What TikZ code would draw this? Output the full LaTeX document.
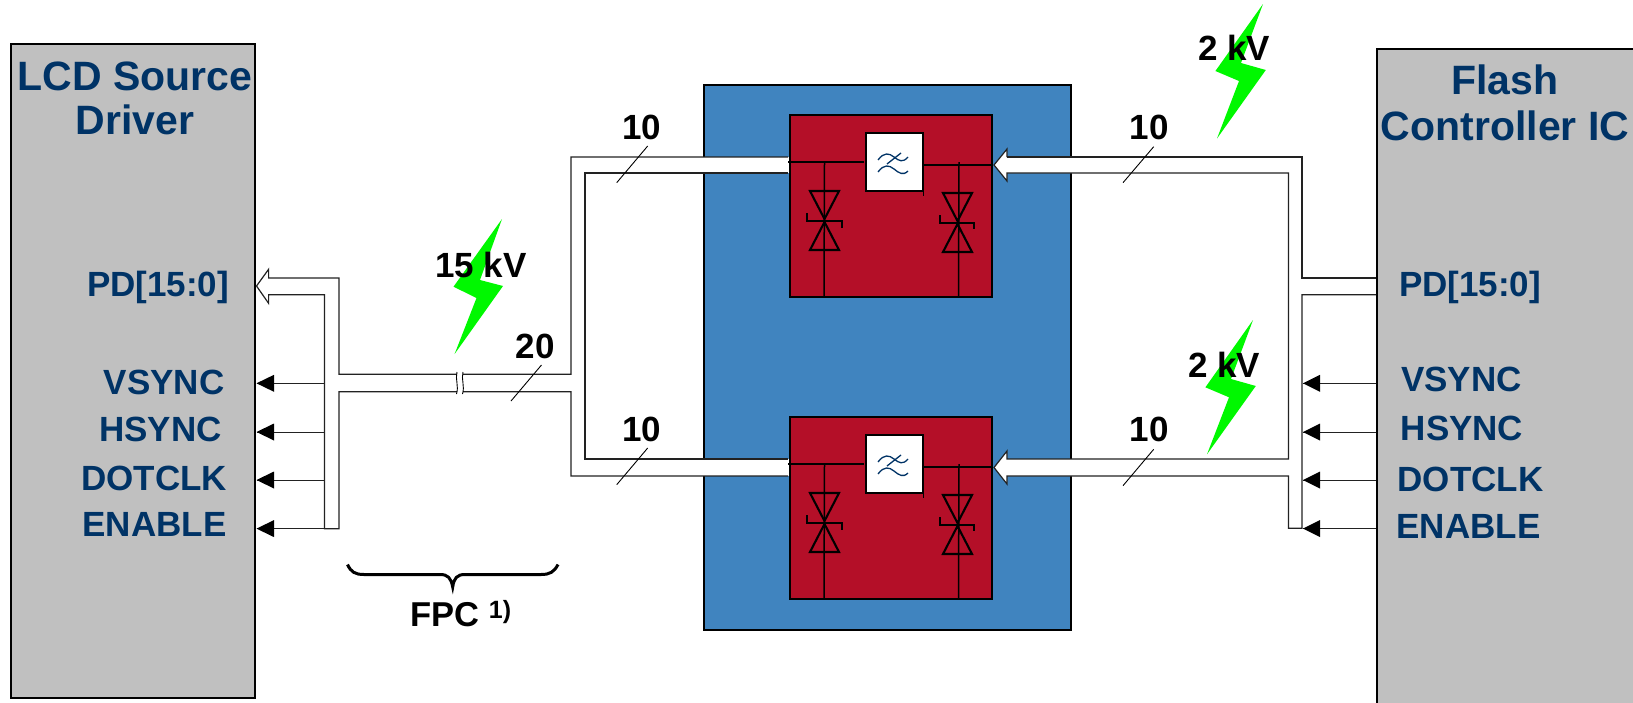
\documentclass[tikz,border=0pt]{standalone}
\usepackage{fontspec}
\setmainfont{Liberation Sans}
\definecolor{chipgrey}{HTML}{C0C0C0}
\definecolor{pkgblue}{HTML}{4084BF}
\definecolor{tvsred}{HTML}{B40F28}
\definecolor{navy}{HTML}{003366}
\definecolor{bolt}{HTML}{00F800}
\definecolor{busgrey}{HTML}{222222}
\newcommand{\fs}[1]{\fontsize{#1}{#1}\selectfont\bfseries}
\tikzset{
  chip/.style={draw=black,line width=2pt,fill=chipgrey,anchor=north west,inner sep=0pt,outer sep=0pt},
  pkg/.style={draw=black,line width=2pt,fill=pkgblue,anchor=north west,inner sep=0pt,outer sep=0pt,minimum width=367pt,minimum height=545pt},
  tvs/.style={draw=black,line width=2.4pt,fill=tvsred,anchor=north west,inner sep=0pt,outer sep=0pt,minimum width=202pt,minimum height=182pt},
  filt/.style={draw=black,line width=2.4pt,fill=white,anchor=north west,inner sep=0pt,outer sep=0pt,minimum width=57pt,minimum height=58pt},
  title/.style={text=navy,font=\fs{41},anchor=base,inner sep=0pt},
  pin/.style={text=navy,font=\fs{35},anchor=base,inner sep=0pt},
  count/.style={text=black,font=\fs{35},anchor=base,inner sep=0pt},
  bus/.style={draw=busgrey,line width=1.2pt,line join=miter},
  busfill/.style={fill=white,draw=none},
  sig/.style={draw=busgrey,line width=0.9pt},
  tri/.style={fill=black,draw=none},
  slash/.style={draw=black,line width=0.9pt},
  wire/.style={draw=black,line width=1.5pt},
  zen/.style={draw=black,line width=2.1pt,line join=miter},
  zap/.style={fill=bolt,draw=none},
  wave/.style={draw=navy,line width=1.3pt}
}
\begin{document}
\begin{tikzpicture}[x=1pt,y=-1pt]
\useasboundingbox (0,0) rectangle (1633,702);

% chips and package
\node[chip,minimum width=244pt,minimum height=654pt] (lcd) at (11,43.5) {};
\node[chip,minimum width=260pt,minimum height=670pt] (flash) at (1376.5,49) {};
\node[pkg] (pkg) at (703.5,85) {};

% white bus fills across the package
\fill[busfill] (703,157) rectangle (790,173);
\fill[busfill] (703,459) rectangle (790,476);
\fill[busfill] (994,165) -- (1007,149) -- (1007,157) -- (1072,157) -- (1072,173) -- (1007,173) -- (1007,181) -- cycle;
\fill[busfill] (994,467.5) -- (1007,451) -- (1007,459) -- (1072,459) -- (1072,476) -- (1007,476) -- (1007,484) -- cycle;

% named junctions of the bus outline
\coordinate (la) at (788,157);
\coordinate (lb) at (788,173);
\coordinate (lc) at (788,459);
\coordinate (ld) at (788,476);
\coordinate (pdl) at (256.5,286);
\coordinate (pdr) at (1376,278);
\coordinate (pds) at (1376,294.7);
\coordinate (ra) at (994,165);
\coordinate (rb) at (994,467.5);

% left bus
\draw[bus] (la) -- (571,157) -- (571,374.3) -- (339,374.3) -- (339,278) -- (268.6,278) -- (268.6,269.3)
  -- (pdl) -- (268.6,303.3) -- (268.6,294.7) -- (324.5,294.7) -- (324.5,528.7) -- (339,528.7)
  -- (339,391.7) -- (571,391.7) -- (571,476) -- (ld);
\draw[bus] (lb) -- (585,173) -- (585,459) -- (lc);

% right bus
\draw[bus] (1007,157) -- (1007,149) -- (ra) -- (1007,181) -- (1007,173) -- (1288.5,173) -- (1288.5,459)
  -- (1007,459) -- (1007,451) -- (rb) -- (1007,484) -- (1007,476) -- (1288.5,476) -- (1288.5,528.3)
  -- (1302,528.3) -- (1302,294.7) -- (pds);
\draw[bus] (1007,157) -- (1302,157) -- (1302,278) -- (pdr);

% cable break
\fill[white] (457,372) rectangle (462.5,394);
\draw[slash] (457,372) .. controls (455,379) and (459,386) .. (456.5,394);
\draw[slash] (463,372) .. controls (461,379) and (465,386) .. (462.5,394);

% single signals
\foreach \yy/\nm in {383.3/v,432/h,480/d,528.6/e}{
  \coordinate (l\nm) at (256.5,\yy);
  \coordinate (m\nm) at (324.5,\yy);
  \coordinate (r\nm) at (1303,\yy);
  \coordinate (n\nm) at (1376,\yy);
  \draw[sig] (m\nm) -- (l\nm);
  \draw[sig] (n\nm) -- (r\nm);
  \fill[tri] (l\nm) -- ++(17.5,-8.5) -- ++(0,17) -- cycle;
  \fill[tri] (r\nm) -- ++(17,-8.5) -- ++(0,17) -- cycle;
}

% protection devices
\foreach \s/\n in {0/a,302/b}{
\begin{scope}[shift={(0,\s)}]
  \node[tvs] (red\n) at (790,115) {};
  \node[filt] (flt\n) at (866,133) {};
  \draw[wire] (788,162) -- (864,162);
  \draw[wire] (924,165) -- (992,165);
  \draw[wire] (923.5,165) -- (923.5,196);
  \draw[wire] (824.5,162) -- (824,297);
  \draw[wire] (959,162) -- (958.5,297);
  \draw[zen] (810,191) -- (839,191) -- (824.5,219) -- cycle;
  \draw[zen] (810,250) -- (839,250) -- (824.5,222) -- cycle;
  \draw[zen] (807,213) -- (807,221) -- (842,221) -- (842,228);
  \draw[zen] (943,193) -- (972,193) -- (957.5,221) -- cycle;
  \draw[zen] (943,252) -- (972,252) -- (957.5,224) -- cycle;
  \draw[zen] (940,215) -- (940,223) -- (974,223) -- (974,229);
  \draw[wave] (878,160) .. controls (884,152) and (889,153) .. (894,157) .. controls (899,161) and (903,163) .. (908,157);
  \draw[wave] (878,172) .. controls (884,164) and (889,165) .. (894,169) .. controls (899,173) and (903,176) .. (908,171);
  \draw[wave] (887,164) -- (901,153);
\end{scope}}

% lightning bolts
\fill[zap] (502,219) -- (453.5,286.7) -- (476.5,298) -- (454.6,354) -- (503,286) -- (480,280) -- cycle;
\fill[zap] (1253,320) -- (1205.4,387.3) -- (1229,397.3) -- (1207,454.3) -- (1255.8,386) -- (1231,379) -- cycle;
\fill[zap] (1263,4) -- (1215.4,71) -- (1239,81) -- (1217,138.5) -- (1265.8,70) -- (1241,63) -- cycle;

% bus count slashes
\coordinate (s1a) at (647.7,146);   \coordinate (s1b) at (616.7,182.7);
\coordinate (s2a) at (1153.7,146.7);\coordinate (s2b) at (1123,182.7);
\coordinate (s3a) at (647.7,448);   \coordinate (s3b) at (616.7,484.7);
\coordinate (s4a) at (1153.7,449.3);\coordinate (s4b) at (1123,485.7);
\coordinate (s5a) at (541.5,365);   \coordinate (s5b) at (511,401);
\foreach \k in {1,...,5}{\draw[slash] (s\k a) -- (s\k b);}

% brace
\coordinate (bl) at (347.5,564.5);
\coordinate (br) at (558,564.5);
\coordinate (bt) at (452.7,587);
\draw[black,line width=3pt] (bl) .. controls (351,572) and (355,574.5) .. (364,574.5) -- (440,574.5)
  .. controls (448,574.5) and (451,578) .. (bt) .. controls (454,578) and (457,574.5) .. (465,574.5)
  -- (541,574.5) .. controls (550,574.5) and (554,572) .. (br);

% titles
\node[title] (t1) at (135,90) {LCD Source};
\node[title] (t2) at (135,134) {Driver};
\node[title] (t3) at (1505,94) {Flash};
\node[title] (t4) at (1505,140) {Controller IC};

% pins
\node[pin] (p1) at (158,296.7) {PD[15:0]};
\node[pin] (p2) at (164,394) {VSYNC};
\node[pin] (p3) at (160.5,441) {HSYNC};
\node[pin] (p4) at (154.3,490) {DOTCLK};
\node[pin] (p5) at (154.6,536.7) {ENABLE};
\node[pin] (q1) at (1470,296.7) {PD[15:0]};
\node[pin] (q2) at (1461.4,391.7) {VSYNC};
\node[pin] (q3) at (1462,440) {HSYNC};
\node[pin] (q4) at (1470.5,491.7) {DOTCLK};
\node[pin] (q5) at (1468.5,538) {ENABLE};

% counts and voltages
\node[count] (c1) at (641.5,139) {10};
\node[count] (c2) at (1149,139) {10};
\node[count] (c3) at (641.5,441) {10};
\node[count] (c4) at (1149,441) {10};
\node[count] (c5) at (535,358) {20};
\node[count] (k1) at (481,277) {15 kV};
\node[count] (k2) at (1234,60.5) {2 kV};
\node[count] (k3) at (1224,377) {2 kV};
\node[count,font=\fs{34.5}] (f1) at (444.5,626) {FPC};
\node[count,font=\fs{25}] (f2) at (500,618) {1)};
\end{tikzpicture}
\end{document}
